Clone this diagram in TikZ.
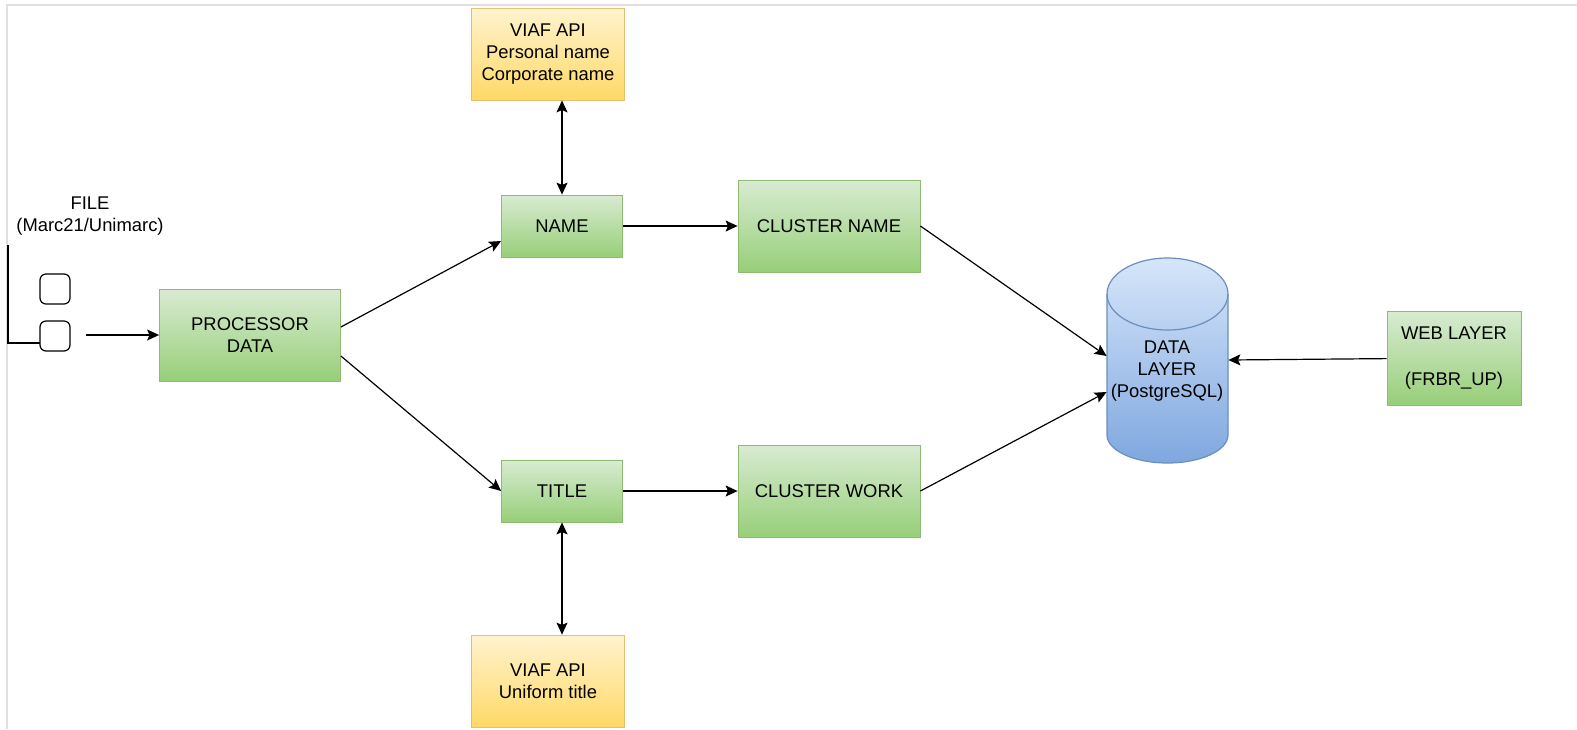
\documentclass[tikz,border=0pt]{standalone}
\usepackage{fontspec}
\setmainfont{Liberation Sans}
\usepackage{tikz}
\usetikzlibrary{positioning,
                arrows.meta}                % arrow tips

\definecolor{greentop}{HTML}{D8EBD2}
\definecolor{greenbot}{HTML}{97CF78}
\definecolor{greendraw}{HTML}{8DBB72}
\definecolor{yellowtop}{HTML}{FFF3CF}
\definecolor{yellowbot}{HTML}{FFD966}
\definecolor{yellowdraw}{HTML}{E0C270}
\definecolor{bluetop}{HTML}{D6E6FA}
\definecolor{bluebot}{HTML}{7FA7DF}
\definecolor{bluedraw}{HTML}{6C8EBF}

\begin{document}
\begin{tikzpicture}[x=0.5pt, y=-0.5pt,
        >={Stealth[length=6pt, width=5.5pt, inset=1.2pt]},
        every node/.style={font=\fontsize{9.2}{11}\selectfont, align=center, inner sep=0pt},
        greenbox/.style={draw=greendraw, top color=greentop, bottom color=greenbot},
        yellowbox/.style={draw=yellowdraw, top color=yellowtop, bottom color=yellowbot},
        link/.style={->, line width=0.6pt}]
        \draw[black!12, line width=0.9pt] (7,729) -- (7,5) -- (1577,5);

        % input file
        \node (file) at (90,216) {FILE\\(Marc21/Unimarc)};
        \draw[line width=0.6pt] (8,245) |- (40,343);
        \draw[line width=0.6pt, rounded corners=3pt] (40,274) rectangle (70,304);
        \draw[line width=0.6pt, rounded corners=3pt] (40,321) rectangle (70,351);
        \coordinate (fileout) at (86,335);

        % boxes
        \node[greenbox, minimum width=90.5pt, minimum height=46pt] (proc) at (250,335) {PROCESSOR\\DATA};
        \node[greenbox, minimum width=60.5pt, minimum height=31pt] (name) at (562,226) {NAME};
        \node[greenbox, minimum width=60.5pt, minimum height=31pt] (title) at (562,491) {TITLE};
        \node[greenbox, minimum width=91pt, minimum height=46pt] (cname) at (829,226) {CLUSTER NAME};
        \node[greenbox, minimum width=91pt, minimum height=46pt] (cwork) at (829,491) {CLUSTER WORK};
        \node[greenbox, minimum width=67pt, minimum height=47pt] (web) at (1454,358) {WEB LAYER\\[12pt](FRBR\_UP)};
        \node[yellowbox, minimum width=76.5pt, minimum height=46pt] (viafname) at (548,54) {VIAF API\\Personal name\\Corporate name};
        \node[yellowbox, minimum width=76.5pt, minimum height=46pt] (viaftitle) at (548,681) {VIAF API\\Uniform title};

        % data layer
        \draw[bluedraw, line width=0.6pt, top color=bluetop, bottom color=bluebot]
            (1107,294) -- (1107,435) arc[start angle=180, end angle=360, x radius=30.25pt, y radius=14pt]
            -- (1228,294) arc[start angle=0, end angle=180, x radius=30.25pt, y radius=18pt] -- cycle;
        \draw[bluedraw, line width=0.6pt] (1107,294) arc[start angle=180, end angle=360, x radius=30.25pt, y radius=18pt];
        \node[minimum width=60.5pt, minimum height=102.5pt] (db) at (1167.5,360) {};
        \node (dbtext) at (1167,371) {DATA\\LAYER\\(PostgreSQL)};

        % connectors
        \draw[link] (fileout) -- (proc.west);
        \draw[link] ([yshift=4pt]proc.east) -- ([yshift=-7.5pt]name.west);
        \draw[link] ([yshift=-10.5pt]proc.east) -- (title.west);
        \draw[link] (name) -- (cname);
        \draw[link] (title) -- (cwork);
        \draw[link] (cname.east) -- ([yshift=2pt]db.west);
        \draw[link] (cwork.east) -- ([yshift=-16pt]db.west);
        \draw[link] (web) -- (db.east);
        \draw[link, <->] (viafname.south -| name) -- (name);
        \draw[link, <->] (title) -- (viaftitle.north -| title);

        \pgfresetboundingbox
        \useasboundingbox (0,0) rectangle (1577,729);
    \end{tikzpicture}
\end{document}
